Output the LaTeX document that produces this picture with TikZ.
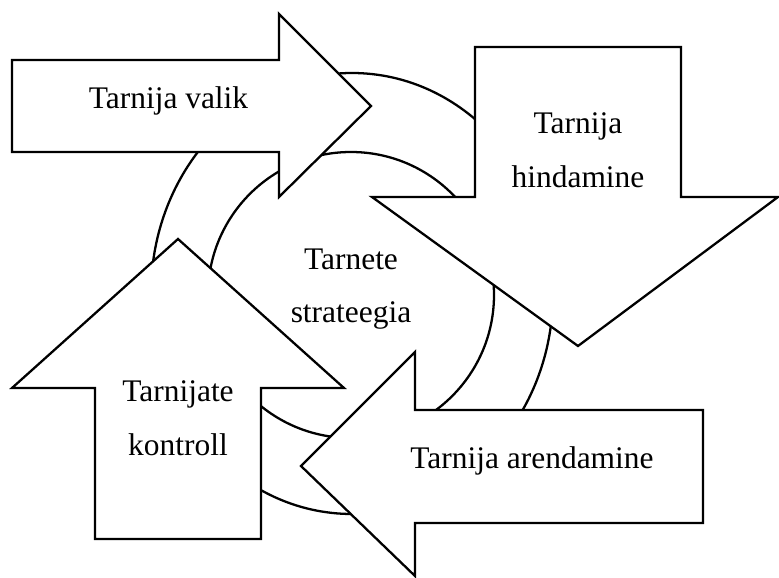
\documentclass[tikz,border=0pt]{standalone}
\usepackage{fontspec}
\setmainfont{Liberation Serif}
\usetikzlibrary{calc}

\begin{document}
\begin{tikzpicture}[
    x=0.02cm, y=-0.02cm,
    bigarrow/.style={draw, fill=white, line width=1.3pt, line join=miter},
    ringpart/.style={draw, fill=white, line width=1.3pt},
    txt/.style={align=center, inner sep=0pt, font=\fontsize{17.9pt}{30.6pt}\selectfont}
]
\useasboundingbox (0,0) rectangle (779,578);

% Ring behind the arrows
\draw[ringpart] (352,293.5) ellipse [x radius=201, y radius=220.5];
\draw[ringpart] (351,295) circle [radius=143];
\node[txt] (strateegia) at (351,289) {Tarnete\\strateegia};

% Arrow 1: right
\draw[bigarrow] (12,60) -- (279,60) -- (279,14) -- (371,106) -- (279,197) -- (279,152) -- (12,152) -- cycle;
\node[txt, anchor=base] (valik) at (168.5,109) {Tarnija valik};

% Arrow 2: down
\draw[bigarrow] (475,47) -- (681,47) -- (681,197) -- (778,197) -- (578,346) -- (372,197) -- (475,197) -- cycle;
\node[txt] (hindamine) at (578,150) {Tarnija\\hindamine};

% Arrow 3: left
\draw[bigarrow] (703,410) -- (703,523) -- (415,523) -- (415,576) -- (301,466) -- (415,352) -- (415,410) -- cycle;
\node[txt, anchor=base] (arendamine) at (532,468) {Tarnija arendamine};

% Arrow 4: up
\draw[bigarrow] (95,539) -- (95,388) -- (12,388) -- (178,239) -- (344,388) -- (261,388) -- (261,539) -- cycle;
\node[txt] (kontroll) at (178,418) {Tarnijate\\kontroll};

\end{tikzpicture}
\end{document}
